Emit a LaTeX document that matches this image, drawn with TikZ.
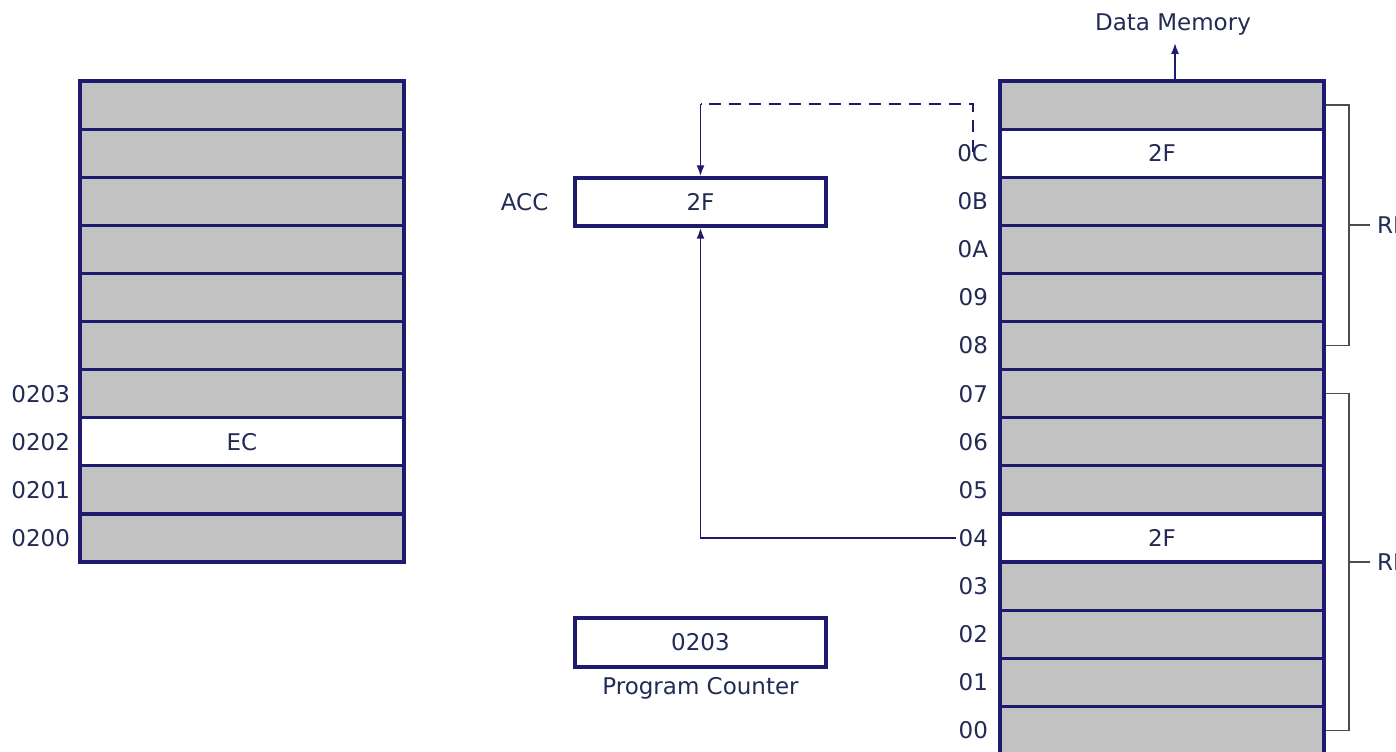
\documentclass[tikz,border=0pt]{standalone}
\usepackage{fontspec}
\setmainfont{DejaVu Sans}
\usetikzlibrary{arrows.meta,positioning}

\definecolor{navy}{HTML}{1E1B6E}
\definecolor{ink}{HTML}{222B55}
\definecolor{cellgray}{HTML}{C2C2C2}

\tikzset{
  cell/.style={draw=navy, line width=1.6pt, fill=cellgray, minimum width=162pt,
    minimum height=24.05pt, inner sep=0pt, text=ink},
  hot/.style={cell, fill=white},
  addr/.style={text=ink, inner sep=1pt},
  wire/.style={draw=navy, line width=0.9pt},
  bracket/.style={draw=black!70, line width=0.8pt},
}

\begin{document}
\begin{tikzpicture}[x=0.5pt, y=-0.5pt, font=\fontsize{11.5}{13}\selectfont,
    >={Latex[length=5.5pt,width=4pt]}]
    \path[use as bounding box, clip] (0,0) rectangle (1396,751);
    % program memory
    \foreach \i/\s/\t in {0/cell/{},1/cell/{},2/cell/{},3/cell/{},4/cell/{},
        5/cell/{},6/cell/{},7/hot/EC,8/cell/{},9/cell/{}}
        \node[\s] (pm\i) at (242, {81+48.1*(\i+0.5)}) {\t};
    \foreach \i/\a in {6/0203,7/0202,8/0201,9/0200}
        \node[addr, left=3pt of pm\i] (pa\a) {\a};
    % data memory
    \foreach \i/\s/\t in {0/cell/{},1/hot/2F,2/cell/{},3/cell/{},4/cell/{},
        5/cell/{},6/cell/{},7/cell/{},8/cell/{},9/hot/2F,10/cell/{},
        11/cell/{},12/cell/{},13/cell/{}}
        \node[\s] (dm\i) at (1162, {81+48.1*(\i+0.5)}) {\t};
    \foreach \i/\a in {1/0C,2/0B,3/0A,4/09,5/08,6/07,7/06,8/05,9/04,
        10/03,11/02,12/01,13/00}
        \node[addr, left=4pt of dm\i] (ra\a) {\a};
    \node[text=ink] (dmlabel) at (1173,25) {Data Memory};
    % registers
    \node[hot, minimum width=125.5pt] (acc) at (700.5,202) {2F};
    \node[text=ink, left=9pt of acc] (acclabel) {ACC};
    \node[hot, minimum width=125.5pt, minimum height=24.5pt] (pc) at (700.5,642.5) {0203};
    \node[text=ink, below=1pt of pc] (pclabel) {Program Counter};
    % register banks
    \node[text=ink, anchor=west] (rb1) at (1370,225) {RB1};
    \node[text=ink, anchor=west] (rb0) at (1370,562) {RB0};
    \draw[bracket] (dm0.east) -- (dm0.east -| 1349,0) -- (dm5.east -| 1349,0) -- (dm5.east);
    \draw[bracket] (dm6.east) -- (dm6.east -| 1349,0) -- (dm13.east -| 1349,0) -- (dm13.east);
    \draw[bracket] (rb1.west) -- (rb1.west -| 1349,0);
    \draw[bracket] (rb0.west) -- (rb0.west -| 1349,0);
    % connectors
    \coordinate (dmtap) at (1175,81);
    \draw[wire, ->] (dmtap) -- (dmtap |- dmlabel.south);
    \coordinate (bend) at (acc.north |- 0,104);
    \draw[wire, dash pattern=on 6pt off 4pt] ([yshift=-5pt]ra0C.north) |- (bend);
    \draw[wire, ->] (bend) -- (acc.north);
    \draw[wire, ->] (ra04.west) -| (acc.south);
\end{tikzpicture}
\end{document}
